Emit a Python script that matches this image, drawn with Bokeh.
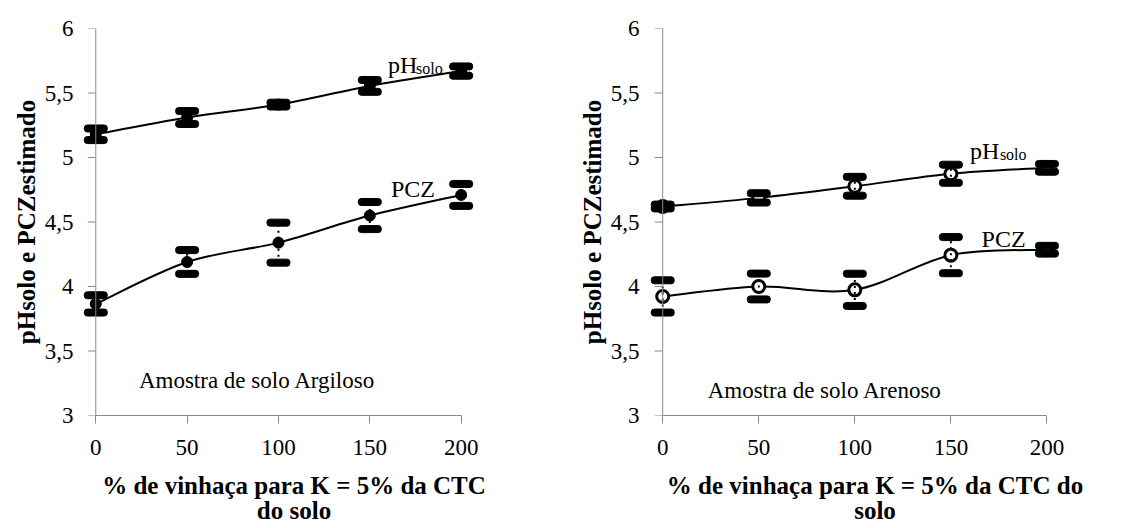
import math
from bokeh.plotting import figure
from bokeh.layouts import row
from bokeh.models import Range1d, FixedTicker, CustomJSTickFormatter, Span
from bokeh.core.properties import value
from bokeh.embed import file_html
from bokeh.resources import INLINE

# ---------------- data ----------------
doses = [0, 50, 100, 150, 200]

arg_ph = [5.18, 5.31, 5.41, 5.555, 5.67]
arg_ph_err = [0.045, 0.05, 0.015, 0.046, 0.036]
arg_pcz = [3.865, 4.19, 4.34, 4.55, 4.71]
arg_pcz_err = [0.067, 0.092, 0.155, 0.105, 0.085]

are_ph = [4.62, 4.687, 4.777, 4.874, 4.92]
are_ph_err = [0.015, 0.036, 0.073, 0.07, 0.03]
are_pcz = [3.923, 4.0, 3.974, 4.243, 4.285]
are_pcz_err = [0.125, 0.10, 0.125, 0.14, 0.03]

y_ticks = [3, 3.5, 4, 4.5, 5, 5.5, 6]
x_ticks = [0, 50, 100, 150, 200]

y_title = "pHsolo e PCZestimado"
x_title_left = "% de vinhaça para K = 5% da CTC\ndo solo"
x_title_right = "% de vinhaça para K = 5% da CTC do\nsolo"

SERIF = "Liberation Serif"
AXIS_GRAY = "#8a8a8a"


def smooth_segments(xs, ys):
    """Catmull-Rom style bezier control points for a smoothed line."""
    n = len(xs)
    out = dict(x0=[], y0=[], x1=[], y1=[], cx0=[], cy0=[], cx1=[], cy1=[])
    for i in range(n - 1):
        xp, yp = (xs[i - 1], ys[i - 1]) if i > 0 else (xs[i], ys[i])
        xn, yn = (xs[i + 2], ys[i + 2]) if i + 2 < n else (xs[i + 1], ys[i + 1])
        out["x0"].append(xs[i]); out["y0"].append(ys[i])
        out["x1"].append(xs[i + 1]); out["y1"].append(ys[i + 1])
        out["cx0"].append(xs[i] + (xs[i + 1] - xp) / 6.0)
        out["cy0"].append(ys[i] + (ys[i + 1] - yp) / 6.0)
        out["cx1"].append(xs[i + 1] - (xn - xs[i]) / 6.0)
        out["cy1"].append(ys[i + 1] - (yn - ys[i]) / 6.0)
    return out


def make_fig(width, x_end, border_left, border_right, border_top, x_title):
    p = figure(width=width, height=528, output_backend="svg", toolbar_location=None,
               x_range=Range1d(-10, x_end), y_range=Range1d(3, 6),
               min_border_left=border_left, min_border_right=border_right,
               min_border_top=border_top, min_border_bottom=113)
    p.grid.visible = False
    p.outline_line_color = None
    p.background_fill_color = "white"

    xa = p.xaxis[0]
    xa.ticker = FixedTicker(ticks=x_ticks)
    xa.bounds = (0, 200)
    ya = p.yaxis[0]
    ya.ticker = FixedTicker(ticks=y_ticks)
    ya.formatter = CustomJSTickFormatter(code="return tick.toString().replace('.', ',');")

    for ax in (xa, ya):
        ax.minor_tick_line_color = None
        ax.major_label_text_font = SERIF
        ax.major_label_text_font_size = "23px"
        ax.major_label_text_color = "black"
        ax.axis_label_text_font = SERIF
        ax.axis_label_text_font_style = "bold"
        ax.axis_label_text_font_size = "25px"
        ax.axis_label_text_color = "black"

    xa.axis_line_color = AXIS_GRAY
    xa.major_tick_line_color = AXIS_GRAY
    xa.major_tick_out = 8
    xa.major_tick_in = 0
    xa.major_label_standoff = 16
    xa.axis_label = x_title
    xa.axis_label_standoff = 14
    xa.axis_label_text_line_height = 0.95

    # y axis: labels at frame edge, axis line + ticks drawn at x = 0
    ya.axis_line_color = None
    ya.major_tick_line_color = None
    ya.major_tick_out = 0
    ya.major_tick_in = 0
    ya.major_label_standoff = 4
    ya.axis_label = y_title
    ya.axis_label_standoff = 2

    p.add_layout(Span(location=0, dimension="height", line_color=AXIS_GRAY, line_width=1))
    p.ray(x=[0] * len(y_ticks), y=y_ticks, length=8, length_units="screen",
          angle=math.pi, line_color=AXIS_GRAY, line_width=1)
    return p


def draw_series(p, ys, errs, hollow):
    seg = smooth_segments(doses, ys)
    p.bezier(x0=seg["x0"], y0=seg["y0"], x1=seg["x1"], y1=seg["y1"],
             cx0=seg["cx0"], cy0=seg["cy0"], cx1=seg["cx1"], cy1=seg["cy1"],
             line_color="black", line_width=2)
    if hollow:
        p.scatter(x=doses, y=ys, size=12, marker="circle", fill_color="white",
                  line_color="black", line_width=3)
    else:
        p.scatter(x=doses, y=ys, size=11, marker="circle", fill_color="black",
                  line_color="black")
    lo = [y - e for y, e in zip(ys, errs)]
    hi = [y + e for y, e in zip(ys, errs)]
    p.segment(x0=doses, y0=lo, x1=doses, y1=hi, line_color="black",
              line_width=2, line_dash="2 4")
    for caps in (lo, hi):
        p.rect(x=doses, y=caps, width=23, height=7, width_units="screen",
               height_units="screen", fill_color="black", line_color="black",
               border_radius=3)


def labels(p, ph_pos, solo_pos, pcz_pos, sample_pos, sample_text):
    kw = dict(text_font=value(SERIF), text_color="black", text_align="left",
              text_baseline="alphabetic")
    p.text(x=[ph_pos[0]], y=[ph_pos[1]], text=["pH"], text_font_size="24px", **kw)
    p.text(x=[solo_pos[0]], y=[solo_pos[1]], text=["solo"], text_font_size="16px", **kw)
    p.text(x=[pcz_pos[0]], y=[pcz_pos[1]], text=["PCZ"], text_font_size="24px", **kw)
    p.text(x=[sample_pos[0]], y=[sample_pos[1]], text=[sample_text],
           text_font_size="23px", **kw)


# ---------------- left: Argiloso ----------------
p1 = make_fig(560, 227, 77, 50, 25, x_title_left)
draw_series(p1, arg_ph, arg_ph_err, hollow=False)
draw_series(p1, arg_pcz, arg_pcz_err, hollow=False)
labels(p1, (160, 5.715), (175.3, 5.69), (161.6, 4.754), (23.6, 3.27),
       "Amostra de solo Argiloso")

# ---------------- right: Arenoso ----------------
p2 = make_fig(565, 231, 83, 19, 28, x_title_right)
draw_series(p2, are_ph, are_ph_err, hollow=True)
draw_series(p2, are_pcz, are_pcz_err, hollow=True)
labels(p2, (160, 5.047), (175.5, 5.022), (166, 4.372), (23.4, 3.19),
       "Amostra de solo Arenoso")

layout = row(p1, p2)
open("out.html", "w").write(file_html(layout, INLINE))
